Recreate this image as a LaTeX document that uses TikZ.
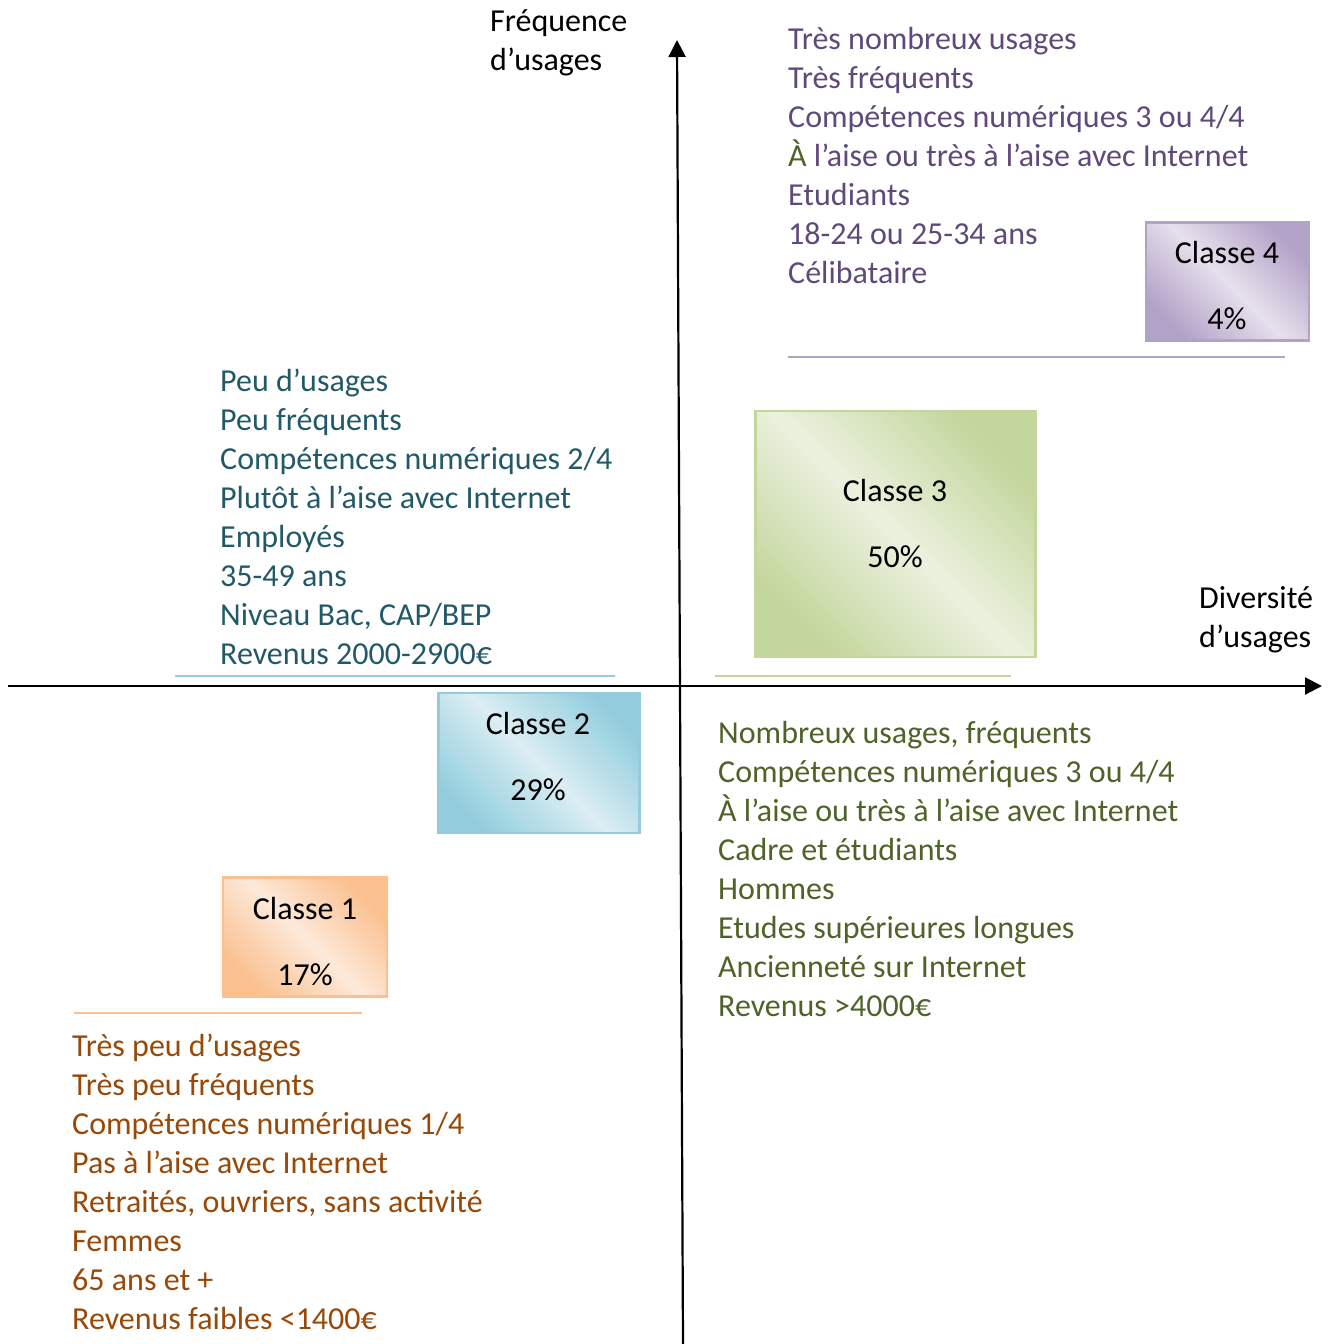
\documentclass[tikz,border=0pt]{standalone}
\usepackage{fontspec}
\setmainfont{Carlito}
\usetikzlibrary{arrows.meta}
\definecolor{violetfonce}{HTML}{5F497A}
\definecolor{violetbord}{HTML}{B3A2C7}
\definecolor{violetclair}{HTML}{E6E0EC}
\definecolor{vertfonce}{HTML}{4F6228}
\definecolor{vertbord}{HTML}{C3D69B}
\definecolor{vertclair}{HTML}{EBF1DE}
\definecolor{bleufonce}{HTML}{215968}
\definecolor{bleubord}{HTML}{93CDDD}
\definecolor{bleuclair}{HTML}{DBEEF4}
\definecolor{orangefonce}{HTML}{984807}
\definecolor{orangebord}{HTML}{FAC090}
\definecolor{orangeclair}{HTML}{FDE9D9}
\tikzstyle{axe}=[-{Triangle[length=17pt,width=17pt]},line width=2.2pt]
\tikzstyle{trait}=[line width=2.6pt]
\tikzstyle{texte}=[anchor=base west,inner sep=0pt,font=\fontsize{32}{39}\selectfont]
\tikzstyle{titre}=[anchor=base,inner sep=0pt,font=\fontsize{32}{39}\selectfont]
\tikzset{classe/.style 2 args={rectangle,line width=2.6pt,inner sep=0pt,
    draw=#1,top color=#1,bottom color=#1,middle color=#2,shading angle=-45}}

\begin{document}
\begin{tikzpicture}[x=1pt,y=-1pt]
  \useasboundingbox (0,0) rectangle (1328,1344);

  % axes
  \coordinate (xdeb) at (8,686);
  \coordinate (xfin) at (1322,686);
  \coordinate (ydeb) at (683,1344);
  \coordinate (yfin) at (677,40);
  \draw[axe] (xdeb) -- (xfin);
  \draw[axe] (ydeb) -- (yfin);
  \node[texte] (freq1) at (490,31) {Fréquence};
  \node[texte] (freq2) at (490,70) {d’usages};
  \node[texte] (div1) at (1199,608) {Diversité};
  \node[texte] (div2) at (1199,647) {d’usages};

  % classe 4
  \node[classe={violetbord}{violetclair},minimum width=163pt,minimum height=118pt]
        (c4) at (1227.5,281.5) {};
  \node[titre] (t4) at (1227,263) {Classe 4};
  \node[titre] (p4) at (1227,329) {4\%};
  \foreach \ligne [count=\i from 0] in {Très nombreux usages,Très fréquents,
      Compétences numériques 3 ou 4/4,
      {\textcolor{vertfonce}{À} l’aise ou très à l’aise avec Internet},
      Etudiants,18-24 ou 25-34 ans,Célibataire}
    \node[texte,violetfonce] (v\i) at (788,{49+39*\i}) {\ligne};
  \coordinate (vg) at (788,357);
  \coordinate (vd) at (1285,357);
  \draw[trait,violetbord] (vg) -- (vd);

  % classe 3
  \node[classe={vertbord}{vertclair},minimum width=280pt,minimum height=246pt]
        (c3) at (895.5,534) {};
  \node[titre] (t3) at (895,501) {Classe 3};
  \node[titre] (p3) at (895,567) {50\%};
  \coordinate (gg) at (715,676);
  \coordinate (gd) at (1011,676);
  \draw[trait,vertbord] (gg) -- (gd);
  \foreach \ligne [count=\i from 0] in {{Nombreux usages, fréquents},
      Compétences numériques 3 ou 4/4,À l’aise ou très à l’aise avec Internet,
      Cadre et étudiants,Hommes,Etudes supérieures longues,
      Ancienneté sur Internet,Revenus >4000€}
    \node[texte,vertfonce] (g\i) at (718,{743+39*\i}) {\ligne};

  % classe 2
  \foreach \ligne [count=\i from 0] in {Peu d’usages,Peu fréquents,
      Compétences numériques 2/4,Plutôt à l’aise avec Internet,Employés,
      35-49 ans,{Niveau Bac, CAP/BEP},Revenus 2000-2900€}
    \node[texte,bleufonce] (b\i) at (220,{391+39*\i}) {\ligne};
  \coordinate (bg) at (175,676);
  \coordinate (bd) at (615,676);
  \draw[trait,bleubord] (bg) -- (bd);
  \node[classe={bleubord}{bleuclair},minimum width=201pt,minimum height=140pt]
        (c2) at (539,763) {};
  \node[titre] (t2) at (538,734) {Classe 2};
  \node[titre] (p2) at (538,800) {29\%};

  % classe 1
  \node[classe={orangebord}{orangeclair},minimum width=164pt,minimum height=119pt]
        (c1) at (305,937) {};
  \node[titre] (t1) at (305,919) {Classe 1};
  \node[titre] (p1) at (305,985) {17\%};
  \coordinate (og) at (74,1013);
  \coordinate (od) at (362,1013);
  \draw[trait,orangebord] (og) -- (od);
  \foreach \ligne [count=\i from 0] in {Très peu d’usages,Très peu fréquents,
      Compétences numériques 1/4,Pas à l’aise avec Internet,
      {Retraités, ouvriers, sans activité},Femmes,65 ans et +,
      Revenus faibles <1400€}
    \node[texte,orangefonce] (o\i) at (72,{1056+39*\i}) {\ligne};
\end{tikzpicture}
\end{document}
